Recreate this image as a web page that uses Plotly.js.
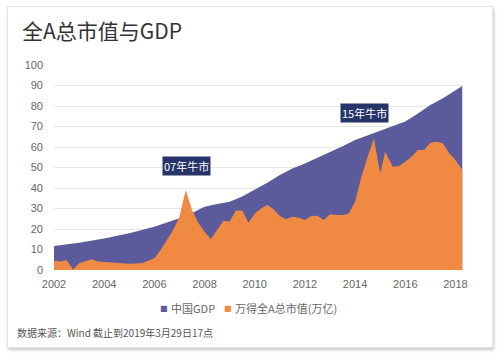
<!DOCTYPE html>
<html>
<head>
<meta charset="utf-8">
<script src="https://cdn.plot.ly/plotly-3.0.1.min.js"></script>
<style>
  html, body { margin: 0; padding: 0; background: #ffffff; }
  #card { position: absolute; left: 7px; top: 6px; width: 484px; height: 340px; border: 1px solid #e4e4e4; box-shadow: 1px 2px 3px rgba(0,0,0,0.22); background: #fff; }
  #chart { position: absolute; left: 0; top: 0; width: 500px; height: 355px; }
</style>
</head>
<body>
<div id="card"></div>
<div id="chart"></div>
<script>
// China GDP (trillion CNY, rolling)
const gdpYears  = [2002.0, 2003.0, 2004.0, 2005.0, 2006.0, 2006.5, 2007.0, 2007.5, 2008.0, 2008.5, 2009.0, 2009.5, 2010.0, 2010.5, 2011.0, 2011.5, 2012.0, 2012.5, 2013.0, 2013.5, 2014.0, 2014.5, 2015.0, 2015.5, 2016.0, 2016.5, 2017.0, 2017.5, 2018.0, 2018.27];
const gdpValues = [11.7, 13.3, 15.4, 17.9, 21.1, 23.1, 25.2, 27.8, 30.9, 32.2, 33.3, 35.8, 39.0, 42.6, 46.3, 49.5, 52.0, 54.7, 57.7, 60.4, 63.4, 65.6, 67.8, 69.9, 72.4, 76.3, 80.5, 83.8, 87.8, 89.8];

// Wind All-A total market cap (trillion CNY)
const capYears  = [2002.0, 2002.25, 2002.5, 2002.76, 2003.0, 2003.25, 2003.5, 2003.75, 2004.0, 2004.5, 2005.0, 2005.5, 2005.75, 2006.0, 2006.25, 2006.5, 2006.75, 2007.0, 2007.25, 2007.5, 2007.75, 2008.0, 2008.25, 2008.5, 2008.75, 2009.0, 2009.25, 2009.5, 2009.75, 2010.0, 2010.25, 2010.5, 2010.75, 2011.0, 2011.25, 2011.5, 2011.75, 2012.0, 2012.25, 2012.5, 2012.75, 2013.0, 2013.25, 2013.5, 2013.75, 2014.0, 2014.25, 2014.5, 2014.75, 2015.0, 2015.2, 2015.5, 2015.75, 2016.0, 2016.25, 2016.5, 2016.75, 2017.0, 2017.25, 2017.5, 2017.75, 2018.0, 2018.15, 2018.27];
const capValues = [4.5, 4.1, 4.9, 0.3, 3.3, 4.1, 5.2, 4.1, 3.9, 3.6, 3.1, 3.3, 4.5, 5.7, 9.8, 14.6, 19.5, 26.0, 39.0, 29.3, 23.0, 18.7, 15.0, 19.5, 24.0, 23.6, 29.0, 29.0, 23.0, 27.6, 30.0, 31.7, 29.6, 26.3, 24.7, 26.0, 25.5, 24.4, 26.3, 26.5, 24.4, 27.2, 26.8, 26.8, 27.6, 33.3, 45.5, 55.3, 64.2, 47.2, 57.7, 50.4, 50.7, 52.8, 55.3, 58.5, 58.5, 62.1, 62.6, 61.8, 56.9, 53.7, 51.2, 48.8];

const seriesNames = ['中国GDP', '万得全A总市值(万亿)'];
const tickVals = [2002, 2004, 2006, 2008, 2010, 2012, 2014, 2016, 2018];
const tickText = ['2002', '2004', '2006', '2008', '2010', '2012', '2014', '2016', '2018'];
const callouts = ['07年牛市', '15年牛市'];

const blue = '#5b5b9c';
const orange = '#f08a42';

const traces = [
  { x: gdpYears, y: gdpValues, name: seriesNames[0], type: 'scatter', mode: 'lines',
    fill: 'tozeroy', fillcolor: blue, line: { width: 0, color: blue }, hoverinfo: 'skip', showlegend: false },
  { x: capYears, y: capValues, name: seriesNames[1], type: 'scatter', mode: 'lines',
    fill: 'tozeroy', fillcolor: orange, line: { width: 0, color: orange }, hoverinfo: 'skip', showlegend: false }
];

const tickFont = { family: 'Liberation Sans, Arial, sans-serif', size: 11, color: '#666666' };
const cjk = 'Noto Sans CJK SC, sans-serif';

// helpers: pixel -> paper coords (plot area 54..463 x, 65..270 y)
const px = v => (v - 54) / 409;
const py = v => (270 - v) / 205;

const layout = {
  width: 500, height: 355,
  paper_bgcolor: 'rgba(0,0,0,0)', plot_bgcolor: 'rgba(0,0,0,0)',
  margin: { l: 54, r: 37, t: 65, b: 85 },
  title: { text: '全A总市值与GDP', x: 22/500, xanchor: 'left', xref: 'container',
           y: 1 - 32/355, yanchor: 'middle', yref: 'container',
           font: { family: cjk, size: 21, color: '#333333' } },
  xaxis: { range: [2002, 2018.3], tickvals: tickVals, ticktext: tickText, showgrid: false,
           zeroline: false, showline: false, ticks: '', tickfont: tickFont, ticklabelstandoff: 6 },
  yaxis: { range: [0, 100], dtick: 10, showgrid: true, gridcolor: '#e6e6e6', gridwidth: 1,
           zeroline: false, showline: false, ticks: '', tickfont: tickFont, ticklabelstandoff: 10 },
  showlegend: false,
  annotations: [
    { text: callouts[0], x: 2007.29, y: 50.7, xref: 'x', yref: 'y', showarrow: false,
      bgcolor: '#27346a', borderpad: 1,
      font: { family: cjk, size: 11, color: '#ffffff' } },
    { text: callouts[1], x: 2014.37, y: 76.6, xref: 'x', yref: 'y', showarrow: false,
      bgcolor: '#27346a', borderpad: 1,
      font: { family: cjk, size: 11, color: '#ffffff' } },
    // legend
    { text: '■', xref: 'paper', yref: 'paper', x: px(163.5), xanchor: 'center', y: py(308), yanchor: 'middle',
      showarrow: false, font: { family: 'DejaVu Sans, sans-serif', size: 8, color: blue } },
    { text: seriesNames[0], xref: 'paper', yref: 'paper', x: px(169), xanchor: 'left', y: py(308), yanchor: 'middle',
      showarrow: false, font: { family: cjk, size: 11, color: '#666666' } },
    { text: '■', xref: 'paper', yref: 'paper', x: px(227.5), xanchor: 'center', y: py(308), yanchor: 'middle',
      showarrow: false, font: { family: 'DejaVu Sans, sans-serif', size: 8, color: orange } },
    { text: seriesNames[1], xref: 'paper', yref: 'paper', x: px(233), xanchor: 'left', y: py(308), yanchor: 'middle',
      showarrow: false, font: { family: cjk, size: 11, color: '#666666' } },
    // source
    { text: '数据来源：Wind 截止到2019年3月29日17点', xref: 'paper', yref: 'paper',
      x: px(15), xanchor: 'left', y: py(332), yanchor: 'middle', showarrow: false,
      font: { family: cjk, size: 10, color: '#555555' } }
  ]
};

Plotly.newPlot('chart', traces, layout, { displayModeBar: false, staticPlot: true });
</script>
</body>
</html>
